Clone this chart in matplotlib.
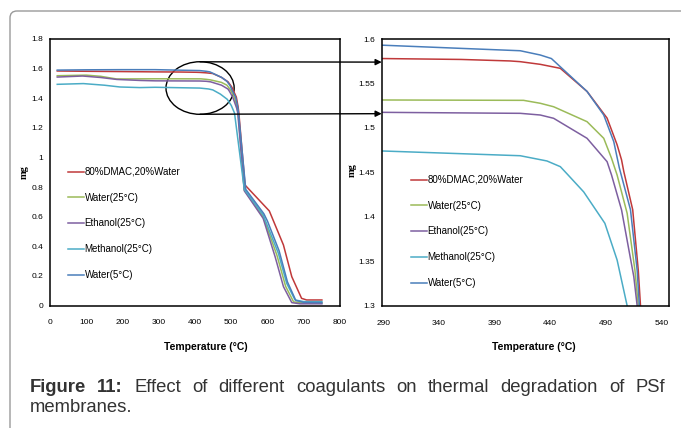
import numpy as np
import matplotlib
matplotlib.use("Agg")
import matplotlib.pyplot as plt
from matplotlib.patches import Ellipse, ConnectionPatch, FancyBboxPatch
from matplotlib.transforms import IdentityTransform

plt.rcParams['font.family'] = ['Liberation Sans', 'DejaVu Sans']

# TGA curves: temperature (C) and mass (mg)
t_dmac = [20, 100, 200, 290, 360, 404, 413, 431, 441, 449, 473, 491, 500, 504, 506, 514, 519, 521, 538, 605, 644, 667, 694, 708, 750]
m_dmac = [1.584, 1.582, 1.580, 1.578, 1.577, 1.5753, 1.5745, 1.5715, 1.569, 1.567, 1.541, 1.511, 1.481, 1.464, 1.451, 1.408, 1.34, 1.30, 0.814, 0.639, 0.409, 0.195, 0.049, 0.038, 0.038]

t_w25 = [20, 100, 140, 184, 250, 290, 416, 431, 443, 473, 488, 495, 500, 509, 516, 519, 536, 588, 626, 650, 672, 700, 750]
m_w25 = [1.552, 1.556, 1.548, 1.530, 1.531, 1.5314, 1.531, 1.5277, 1.5238, 1.507, 1.4883, 1.4658, 1.447, 1.404, 1.34, 1.30, 0.78, 0.60, 0.34, 0.13, 0.025, 0.018, 0.018]

t_eth = [20, 90, 140, 184, 250, 290, 400, 413, 431, 443, 473, 491, 495, 504, 515, 518, 536, 588, 621, 644, 667, 690, 750]
m_eth = [1.543, 1.550, 1.540, 1.527, 1.520, 1.5175, 1.5165, 1.5164, 1.5145, 1.5108, 1.4883, 1.462, 1.447, 1.4077, 1.3326, 1.30, 0.775, 0.589, 0.33, 0.128, 0.02, 0.012, 0.012]

t_meth = [20, 92, 150, 193, 248, 290, 413, 437, 449, 456, 470, 489, 500, 509, 536, 588, 630, 653, 676, 700, 750]
m_meth = [1.494, 1.499, 1.488, 1.476, 1.472, 1.474, 1.4687, 1.4628, 1.4564, 1.447, 1.428, 1.3927, 1.3514, 1.30, 0.785, 0.612, 0.353, 0.15, 0.038, 0.027, 0.027]

t_w5 = [20, 100, 200, 290, 359, 413, 431, 441, 473, 488, 497, 502, 512, 518, 520, 540, 590, 600, 632, 655, 678, 700, 750]
m_w5 = [1.590, 1.592, 1.593, 1.593, 1.5895, 1.5868, 1.582, 1.578, 1.541, 1.5145, 1.4845, 1.455, 1.408, 1.34, 1.30, 0.785, 0.62, 0.57, 0.37, 0.16, 0.035, 0.022, 0.02]

series = [
    ("80%DMAC,20%Water", t_dmac, m_dmac, "#C0393A"),
    ("Water(25°C)", t_w25, m_w25, "#9BBB59"),
    ("Ethanol(25°C)", t_eth, m_eth, "#7D5FA0"),
    ("Methanol(25°C)", t_meth, m_meth, "#4BACC6"),
    ("Water(5°C)", t_w5, m_w5, "#4A7EBB"),
]

caption_bold = "Figure 11:"
caption_line1 = "Effect of different coagulants on thermal degradation of PSf"
caption_line2 = "membranes."

W, H = 681, 428
fig = plt.figure(figsize=(W / 100, H / 100), dpi=100)

def px_axes(x0, y0, x1, y1):
    return fig.add_axes([x0 / W, 1 - y1 / H, (x1 - x0) / W, (y1 - y0) / H])

ax1 = px_axes(50, 39, 340, 305.6)
ax2 = px_axes(381.7, 39, 669, 305.7)

for ax in (ax1, ax2):
    for name, t, m, c in series:
        ax.plot(t, m, color=c, lw=1.1, label=name)
    for s in ax.spines.values():
        s.set_linewidth(1.1)
    ax.tick_params(length=0, labelsize=6)
    ax.tick_params(axis='x', pad=10)
    ax.tick_params(axis='y', pad=5)
    ax.yaxis.set_major_formatter(plt.FuncFormatter(lambda v, p: f"{v:g}"))
    ax.set_xlabel("Temperature (°C)", fontsize=7.5, fontweight='bold')
    ax.set_ylabel("mg", fontsize=7.5, fontweight='bold', family='Liberation Serif')
    ax.xaxis.label.set_va('center')
    ax.yaxis.label.set_va('center')

ax1.set_xlim(0, 800)
ax1.set_ylim(0, 1.8)
ax1.set_xticks(np.arange(0, 801, 100))
ax1.set_yticks(np.arange(0, 1.81, 0.2))
ax1.xaxis.set_label_coords(0.537, -0.155)
ax1.yaxis.set_label_coords(-0.09, 0.5)

ax2.set_xlim(288.6, 546.6)
ax2.set_ylim(1.3, 1.6)
ax2.set_xticks(np.arange(290, 541, 50))
ax2.set_yticks(np.arange(1.3, 1.601, 0.05))
ax2.xaxis.set_label_coords(0.53, -0.155)
ax2.yaxis.set_label_coords(-0.103, 0.51)

leg_kw = dict(frameon=False, fontsize=7, handlelength=1.6, handletextpad=0.1,
              labelspacing=1.62, borderaxespad=0, borderpad=0)
ax1.legend(loc='upper left', bbox_to_anchor=(68 / W, 1 - 167 / H),
           bbox_transform=fig.transFigure, **leg_kw)
ax2.legend(loc='upper left', bbox_to_anchor=(411 / W, 1 - 175 / H),
           bbox_transform=fig.transFigure, **leg_kw)

# zoom marker: ellipse on the left chart and arrows to the right chart
ax1.add_patch(Ellipse((414, 1.469), 188, 0.355, fill=False, ec='black', lw=1, clip_on=False))
for ya, yb in [(1.646, 1.574), (1.292, 1.516)]:
    con = ConnectionPatch(xyA=(414, ya), coordsA=ax1.transData,
                          xyB=(288.6, yb), coordsB=ax2.transData,
                          arrowstyle='-|>', mutation_scale=9, color='black',
                          lw=1, shrinkA=0, shrinkB=0)
    fig.add_artist(con)

# page frame
frame = FancyBboxPatch((10, -60), 720, H - 11 + 60, boxstyle="round,pad=0,rounding_size=7",
                       transform=IdentityTransform(), fill=False, ec='#9a9a9a', lw=1)
fig.add_artist(frame)

# caption, first line justified between x=30 and x=665
cap_kw = dict(fontsize=13.3, va='center', color='#333333')
renderer = fig.canvas.get_renderer()
words = [(w, 'bold') for w in caption_bold.split()] + [(w, 'normal') for w in caption_line1.split()]
texts = [fig.text(0, 1 - 387 / H, w, fontweight=fw, **cap_kw) for w, fw in words]
widths = [t.get_window_extent(renderer).width for t in texts]
gap = (665 - 30 - sum(widths)) / (len(words) - 1)
x = 30
for t, w in zip(texts, widths):
    t.set_x(x / W)
    x += w + gap
fig.text(30 / W, 1 - 408 / H, caption_line2, **cap_kw)

fig.savefig("out.png", dpi=100)
